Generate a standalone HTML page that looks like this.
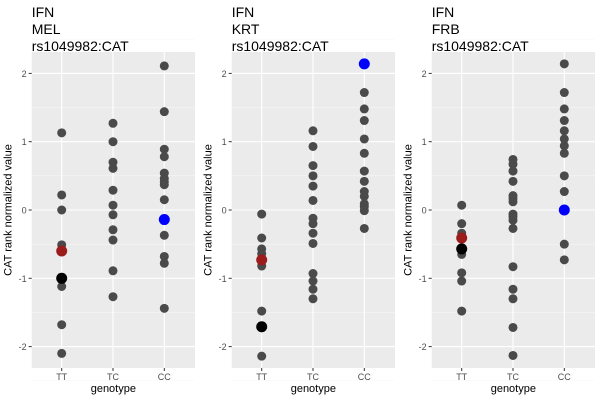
<!DOCTYPE html>
<html><head><meta charset="utf-8"><style>
body{margin:0;background:#fff;}
svg{display:block;font-family:"Liberation Sans",sans-serif;}
</style></head><body>
<svg id="chart" width="600" height="400"></svg>
<script>
const categories=["TT","TC","CC"];
const panelTitles=[["IFN","MEL","rs1049982:CAT"],["IFN","KRT","rs1049982:CAT"],["IFN","FRB","rs1049982:CAT"]];
const yTicks=[-2,-1,0,1,2];
const melTT=[1.13,0.22,0,-0.51,-1.12,-1.68,-2.1];
const melTC=[1.27,1.0,0.7,0.61,0.29,0.07,-0.07,-0.29,-0.44,-0.89,-1.27];
const melCC=[2.11,1.44,0.89,0.78,0.54,0.46,0.41,0.37,0.15,-0.37,-0.68,-0.78,-1.44];
const krtTT=[-0.06,-0.41,-0.57,-0.64,-0.82,-1.48,-2.14];
const krtTC=[1.16,0.93,0.65,0.5,0.35,0.14,-0.12,-0.2,-0.34,-0.49,-0.93,-1.04,-1.16,-1.3];
const krtCC=[1.72,1.48,1.31,1.04,0.83,0.57,0.42,0.27,0.2,0.09,0.05,-0.01,-0.27];
const frbTT=[0.07,-0.2,-0.34,-0.59,-0.65,-0.92,-1.04,-1.48];
const frbTC=[0.74,0.67,0.57,0.42,0.21,0.17,0.12,-0.06,-0.1,-0.15,-0.27,-0.83,-1.16,-1.3,-1.72,-2.13];
const frbCC=[2.14,1.72,1.48,1.31,1.16,1.04,0.94,0.83,0.5,0.27,-0.5,-0.73];
const redVals=[-0.6,-0.73,-0.41];
const blackVals=[-1.0,-1.71,-0.57];
const blueVals=[-0.14,2.14,0];
const panelData=[[melTT,melTC,melCC],[krtTT,krtTC,krtCC],[frbTT,frbTC,frbCC]];
const NS="http://www.w3.org/2000/svg";
const svg=document.getElementById('chart');
function mk(tag,attrs,parent){const e=document.createElementNS(NS,tag);for(const k in attrs)e.setAttribute(k,attrs[k]);(parent||svg).appendChild(e);return e;}
const plotTop=52,plotBot=368,yZero=210,unit=68.3;
function yS(v){return yZero-v*unit;}
for(let p=0;p<3;p++){
  const left=31.7+200*p,right=left+163.3;
  const xS=i=>left+30+51.3*i;
  const g=mk('g',{});
  
  
  const bg=mk('rect',{x:left,y:plotTop,width:right-left,height:plotBot-plotTop,fill:'#ebebeb'},g);
  
  
  for(let v=-2.5;v<=2.5;v+=1){mk('line',{x1:left,x2:right,y1:yS(v),y2:yS(v),stroke:'#f7f7f7','stroke-width':0.6},g);}
  yTicks.forEach(v=>{
    mk('line',{x1:left,x2:right,y1:yS(v),y2:yS(v),stroke:'#fff','stroke-width':1.1},g);
    mk('line',{x1:left-3,x2:left,y1:yS(v),y2:yS(v),stroke:'#333','stroke-width':1},g);
    const t=mk('text',{x:left-5,y:yS(v)+3.5,'text-anchor':'end','font-size':9,fill:'#4d4d4d'},g);
    t.textContent=v;
    
    
  });
  categories.forEach((c,i)=>{
    mk('line',{x1:xS(i),x2:xS(i),y1:plotTop,y2:plotBot,stroke:'#fff','stroke-width':1.1},g);
    mk('line',{x1:xS(i),x2:xS(i),y1:plotBot,y2:plotBot+3,stroke:'#333','stroke-width':1},g);
    const t=mk('text',{x:xS(i),y:plotBot+12,'text-anchor':'middle','font-size':9,fill:'#4d4d4d'},g);
    t.textContent=c;
    
    
  });
  panelData[p].forEach((arr,i)=>arr.forEach(v=>{
    const c=mk('circle',{cx:xS(i),cy:yS(v),r:4.5,fill:'#4a4a4a'},g);
    
    
  }));
  const r=mk('circle',{cx:xS(0),cy:yS(redVals[p]),r:5.5,fill:'#9c1c1c'},g);
  
  
  const b=mk('circle',{cx:xS(0),cy:yS(blackVals[p]),r:5.5,fill:'#000'},g);
  
  
  const bl=mk('circle',{cx:xS(2),cy:yS(blueVals[p]),r:5.5,fill:'#0000ff'},g);
  
  
  panelTitles[p].forEach((s,k)=>{
    const t=mk('text',{x:left,y:17+17*k,'font-size':14,fill:'#000'},g);
    t.textContent=s;
    
    
  });
  const yl=mk('text',{x:0,y:0,'font-size':11,fill:'#000','text-anchor':'middle',transform:`translate(${left-20},${(plotTop+plotBot)/2}) rotate(-90)`},g);
  yl.textContent='CAT rank normalized value';
  
  
  const xl=mk('text',{x:(left+right)/2,y:392,'font-size':11,fill:'#000','text-anchor':'middle'},g);
  xl.textContent='genotype';
  
  
}
</script>
</body></html>
